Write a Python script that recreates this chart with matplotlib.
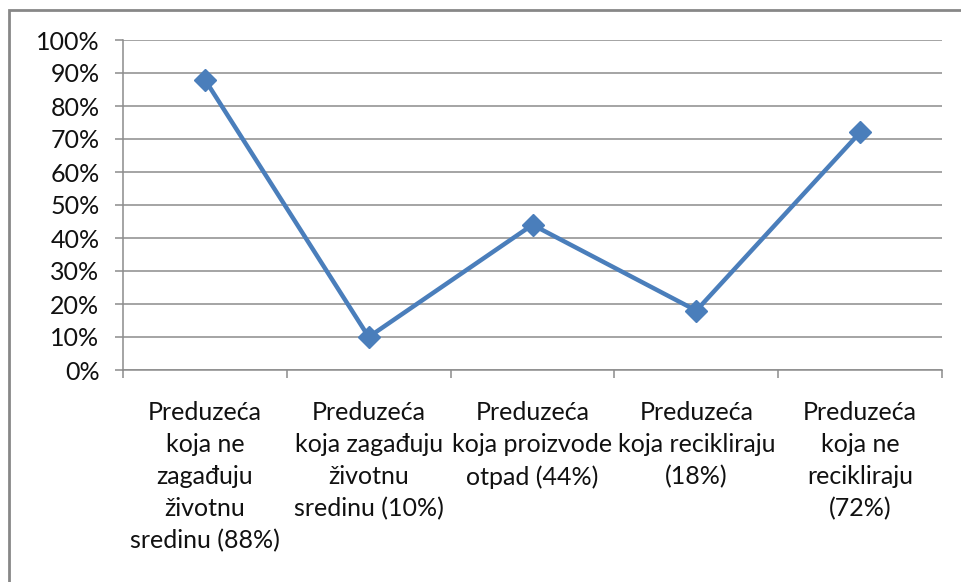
import matplotlib
matplotlib.use('Agg')
import matplotlib.pyplot as plt
from matplotlib.patches import Rectangle
from matplotlib.ticker import PercentFormatter

categories = ['Preduzeća\nkoja ne\nzagađuju\nživotnu\nsredinu (88%)',
              'Preduzeća\nkoja zagađuju\nživotnu\nsredinu (10%)',
              'Preduzeća\nkoja proizvode\notpad (44%)',
              'Preduzeća\nkoja recikliraju\n(18%)',
              'Preduzeća\nkoja ne\nrecikliraju\n(72%)']
values = [88, 10, 44, 18, 72]
y_ticks = list(range(0, 101, 10))

plt.rcParams['font.family'] = ['Lato', 'DejaVu Sans']

fig = plt.figure(figsize=(9.61, 5.82), dpi=100)
ax = fig.add_axes([123 / 961, 212 / 582, 819 / 961, 330 / 582])

# outer frame of the chart area (only left and top visible)
fig.patches.append(Rectangle((9 / 961, -0.1), 1.2, (582 - 10) / 582 + 0.1,
                             transform=fig.transFigure, fill=False,
                             edgecolor='#878787', linewidth=2))

x = list(range(len(values)))
ax.plot(x, values, color='#4A7EBB', linewidth=3.2, marker='D', markersize=11,
        markerfacecolor='#4A7EBB', markeredgecolor='#4A7EBB')

ax.set_xlim(-0.5, len(values) - 0.5)
ax.set_ylim(0, 100)
ax.set_yticks(y_ticks)
ax.yaxis.set_major_formatter(PercentFormatter(decimals=0))
ax.grid(axis='y', color='#8c8c8c', linewidth=1.1)
ax.set_axisbelow(True)

ax.set_xticks(x)
ax.set_xticklabels(categories, linespacing=1.48)
ax.set_xticks([i - 0.5 for i in range(len(values) + 1)], minor=True)
ax.tick_params(axis='x', which='major', length=0, pad=22, labelsize=18, labelcolor='#111111')
ax.tick_params(axis='x', which='minor', length=6, width=1.1, color='#8c8c8c', direction='out')
ax.tick_params(axis='y', length=6, width=1.1, color='#8c8c8c', labelsize=18,
               labelcolor='#111111', pad=11)

for side in ['top', 'right']:
    ax.spines[side].set_visible(False)
for side in ['left', 'bottom']:
    ax.spines[side].set_color('#8c8c8c')
    ax.spines[side].set_linewidth(1.1)

fig.savefig('out.png', dpi=100)
